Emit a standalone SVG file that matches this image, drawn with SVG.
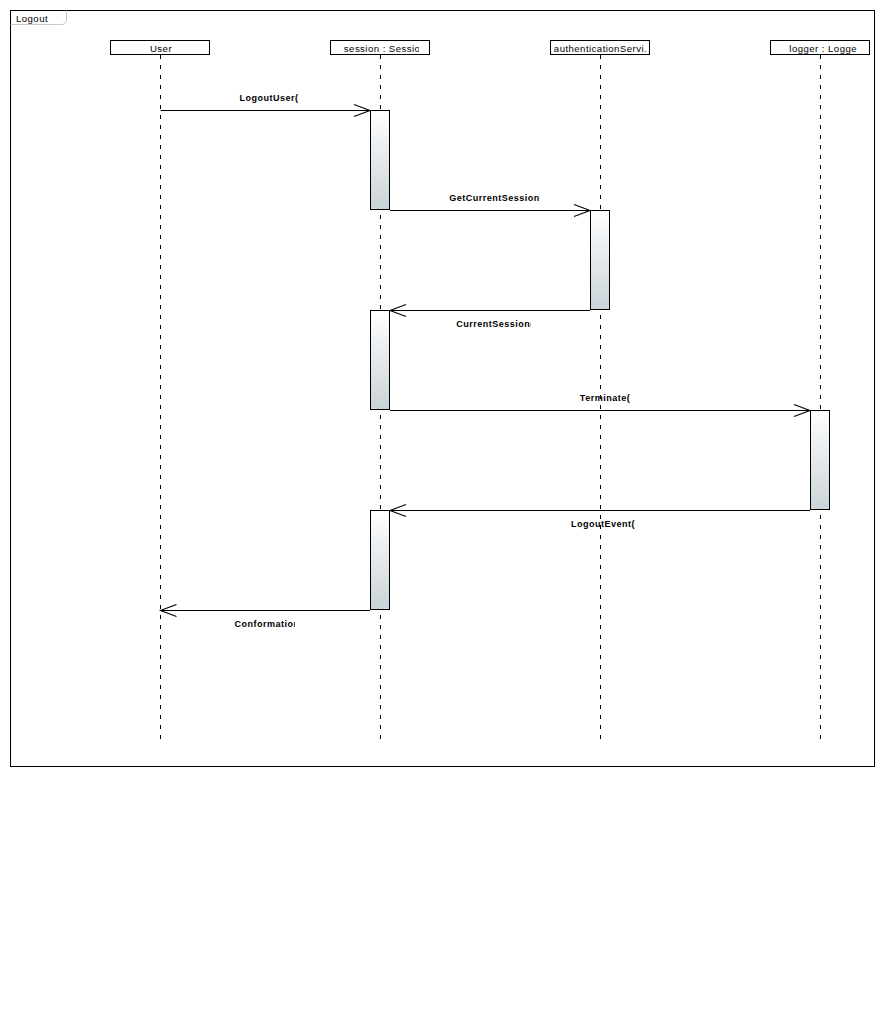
<svg xmlns="http://www.w3.org/2000/svg" width="885" height="1020" viewBox="0 0 885 1020">
<style>
.head{fill:#fff;stroke:#000;stroke-width:1}
.htxt{font-family:"Liberation Sans",Arial,sans-serif;font-size:9.6px;letter-spacing:0.45px;fill:#000;text-anchor:middle}
.life{stroke:#000;stroke-width:1;stroke-dasharray:4 6;fill:none}
.act{fill:url(#g);stroke:#000;stroke-width:1}
.msg{stroke:#000;stroke-width:1;fill:none}
.arr{stroke:#000;stroke-width:1.1;fill:none}
.mtxt{font-family:"Liberation Sans",Arial,sans-serif;font-size:9px;font-weight:bold;letter-spacing:0.5px;fill:#000;text-anchor:middle}
</style>
<defs>
<linearGradient id="g" x1="0" y1="0" x2="0" y2="1">
<stop offset="0" stop-color="#ffffff"/>
<stop offset="1" stop-color="#c9d3d8"/>
</linearGradient>
<clipPath id="c1"><rect x="330" y="40" width="89" height="15"/></clipPath>
<clipPath id="c3"><rect x="770" y="40" width="87" height="15"/></clipPath>
<clipPath id="cm3"><rect x="380" y="315" width="151" height="20"/></clipPath>
<clipPath id="cm6"><rect x="160" y="615" width="135" height="20"/></clipPath>
</defs>
<rect width="885" height="1020" fill="#fff"/>
<g id="frame">
<rect x="10.5" y="10.5" width="864" height="756" fill="none" stroke="#000"/>
<path d="M10.5,24.5 H62 Q66.5,24 66.5,19 V10.5" fill="none" stroke="#c8c8c8"/>
<text x="16" y="21.5" font-family="Liberation Sans,Arial,sans-serif" font-size="9.6px" letter-spacing="0.45px">Logout</text>
</g>
<g id="lifelines">
<line class="life" x1="160.5" y1="55" x2="160.5" y2="740"/>
<line class="life" x1="380.5" y1="55" x2="380.5" y2="740"/>
<line class="life" x1="600.5" y1="55" x2="600.5" y2="740"/>
<line class="life" x1="820.5" y1="55" x2="820.5" y2="740"/>
</g>
<g id="user">
<rect class="head" x="110.5" y="40.5" width="99" height="14"/>
<text class="htxt" x="161" y="51.5">User</text>
</g>
<g id="session">
<rect class="head" x="330.5" y="40.5" width="99" height="14"/>
<text class="htxt" x="385" y="51.5" clip-path="url(#c1)">session : Session</text>
</g>
<g id="authenticationService">
<rect class="head" x="550.5" y="40.5" width="99" height="14"/>
<text class="htxt" x="600.5" y="51.5">authenticationServi.</text>
</g>
<g id="logger">
<rect class="head" x="770.5" y="40.5" width="99" height="14"/>
<text class="htxt" x="825" y="51.5" clip-path="url(#c3)">logger : Logger</text>
</g>
<g id="activations">
<rect class="act" x="370.5" y="110.5" width="19" height="99"/>
<rect class="act" x="590.5" y="210.5" width="19" height="99"/>
<rect class="act" x="370.5" y="310.5" width="19" height="99"/>
<rect class="act" x="810.5" y="410.5" width="19" height="99"/>
<rect class="act" x="370.5" y="510.5" width="19" height="99"/>
</g>
<g id="connectors">
<line class="msg" x1="160.5" y1="110.5" x2="370" y2="110.5"/>
<path class="arr" d="M354,104.5 L370,110.5 L354,116.5"/>
<line class="msg" x1="390" y1="210.5" x2="590" y2="210.5"/>
<path class="arr" d="M574,204.5 L590,210.5 L574,216.5"/>
<line class="msg" x1="590" y1="310.5" x2="390" y2="310.5"/>
<path class="arr" d="M406,304.5 L390,310.5 L406,316.5"/>
<line class="msg" x1="390" y1="410.5" x2="810" y2="410.5"/>
<path class="arr" d="M794,404.5 L810,410.5 L794,416.5"/>
<line class="msg" x1="810" y1="510.5" x2="390" y2="510.5"/>
<path class="arr" d="M406,504.5 L390,510.5 L406,516.5"/>
<line class="msg" x1="370" y1="610.5" x2="160.5" y2="610.5"/>
<path class="arr" d="M176.5,604.5 L160.5,610.5 L176.5,616.5"/>
</g>
<g id="labels">
<text class="mtxt" x="269" y="101">LogoutUser(</text>
<text class="mtxt" x="494.5" y="201">GetCurrentSession</text>
<text class="mtxt" x="495" y="327" clip-path="url(#cm3)">CurrentSession(</text>
<text class="mtxt" x="605" y="401">Terminate(</text>
<text class="mtxt" x="603" y="527">LogoutEvent(</text>
<text class="mtxt" x="267" y="627" clip-path="url(#cm6)">Conformation</text>
</g>
</svg>
